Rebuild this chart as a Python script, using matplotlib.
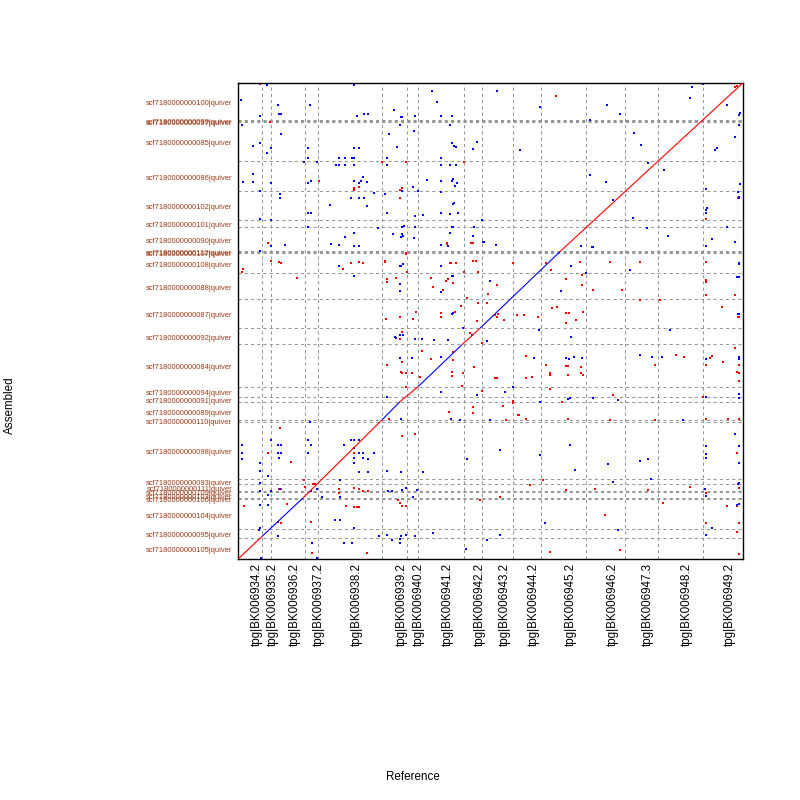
import matplotlib
matplotlib.use("Agg")
import matplotlib.pyplot as plt
import matplotlib.transforms as mtrans
import numpy as np

# reference sequences (x axis), lengths in kb
ref_names = ["tpg|BK006934.2", "tpg|BK006935.2", "tpg|BK006936.2", "tpg|BK006937.2",
             "tpg|BK006938.2", "tpg|BK006939.2", "tpg|BK006940.2", "tpg|BK006941.2",
             "tpg|BK006942.2", "tpg|BK006943.2", "tpg|BK006944.2", "tpg|BK006945.2",
             "tpg|BK006946.2", "tpg|BK006947.3", "tpg|BK006948.2", "tpg|BK006949.2"]
ref_len = [562, 230, 813, 316, 1532, 577, 270, 1091, 440, 746, 667, 1078, 924, 784, 1091, 948]

# assembled scaffolds (y axis), bottom to top, lengths in kb
qry_ids = ["105", "095", "104", "106", "103", "109", "111", "093", "098", "110",
           "089", "091", "094", "084", "092", "087", "088", "108", "107", "112",
           "090", "101", "102", "086", "085", "097", "099", "100"]
qry_len = [525, 228, 768, 25, 147, 25, 190, 112, 1466, 38,
           449, 142, 254, 1075, 406, 735, 659, 507, 25, 25,
           616, 170, 735, 761, 989, 25, 25, 946]

# main diagonal: breakpoints (ref kb, qry kb) and strand of each piece
diag_ref = [0, 566, 1553, 3440, 3872, 4305, 5346, 5783, 7695, 12069]
diag_qry = [0, 565, 1547, 3525, 3989, 4370, 5427, 5850, 7793, 12071]
diag_strand = ["+", "-", "+", "-", "+", "-", "+", "-", "+"]

# short hits, forward strand (ref kb, qry kb)
fwd_hits = [
    (533, 12046), (758, 11090), (1943, 9586), (2780, 9416), (2780, 9358), (2892, 9425),
    (3920, 9416), (3879, 9358), (3872, 9147), (3434, 10076), (4008, 10076), (5394, 10076),
    (5002, 8006), (5569, 8006), (5600, 8006), (724, 8006), (127, 7354), (103, 7286),
    (789, 7557), (987, 7540), (1035, 7507), (2708, 7507), (2892, 7540), (2995, 7507),
    (2517, 7354), (3520, 7557), (4046, 7271), (5067, 7507), (5210, 7507), (5624, 7557),
    (5695, 7557), (1417, 7118), (3568, 7101), (3783, 7126), (4620, 7126), (5026, 7101),
    (5394, 7271), (4022, 7752),
    (1004, 3322), (710, 2681), (1260, 2452), (1577, 2003), (1601, 1834), (1800, 1902),
    (1840, 1902), (987, 1768), (1035, 1768), (2421, 1768), (2780, 1793), (2892, 1768),
    (2995, 1732), (3114, 1732), (10, 1555), (2421, 1666), (136, 1344), (2780, 1326),
    (2837, 1311), (2892, 1311), (2574, 1344), (3817, 1496), (3872, 1413), (3912, 1344),
    (4015, 1344), (3927, 3119), (4230, 3170), (2780, 2681), (2995, 2681), (963, 946),
    (1035, 921), (1745, 946), (1178, 1387), (3090, 145), (1761, 145),
    (5002, 7988), (5609, 8006), (4022, 7735), (3520, 7532), (5083, 7499), (5217, 7499),
    (5729, 7286), (3568, 7025), (4971, 7050), (5146, 6992), (4907, 6822), (4668, 6906),
    (6183, 6949), (6580, 7499), (7354, 7499), (7474, 7329), (7832, 7093), (8174, 7540),
    (8214, 7202), (8229, 6949), (8492, 6822), (5982, 6713), (5466, 6627), (5944, 6485),
    (5743, 6485), (5322, 6424), (4852, 6246), (5186, 6272), (4247, 6272), (4190, 6079),
    (3872, 6130), (3537, 6079), (4852, 6130), (5705, 6043), (6142, 6188), (6183, 6145),
    (6221, 6213), (6357, 6061), (6661, 6188), (6835, 6188), (7177, 6145), (7832, 6231),
    (7911, 6246), (8071, 6061), (7839, 5977), (8253, 6256), (7617, 6398), (7512, 6358),
    (3912, 5749), (3872, 5572), (5545, 5739), (5839, 5470), (4405, 5275), (5146, 5257),
    (5131, 5047), (3927, 5004), (3554, 4920), (4613, 5064), (5633, 4877), (6876, 5156),
    (7354, 4920), (7832, 4894), (7894, 4894), (8198, 4877), (3896, 4750), (3912, 4709),
    (4008, 4709), (4166, 4709), (4350, 4623), (5107, 4750), (5107, 4641), (5385, 4725),
    (6142, 4583), (6183, 4583), (6876, 4598), (7034, 4623), (7457, 4725), (7457, 4666),
    (7894, 4666), (8198, 4709), (8253, 4666), (5361, 4395), (4015, 4370), (7457, 4304),
    (5824, 4260), (6341, 3888), (6580, 3949), (6580, 4007), (7736, 3989), (6685, 3652),
    (6723, 3652), (5624, 3695), (5609, 3847), (5043, 3736), (6876, 3550), (6398, 3525),
    (7894, 3550), (3609, 3550),
    (7600, 11742), (8891, 7532), (9608, 7532), (9178, 6822), (9608, 6568), (10468, 5173),
    (10659, 5123), (9966, 4920), (8963, 4159), (8891, 3525), (9966, 3525), (10086, 6568),
    (5784, 1496), (6262, 1572), (6979, 1877), (7290, 2003), (7839, 1750), (8532, 1775),
    (9799, 1750), (10158, 1420), (10803, 1826), (8771, 1116), (9130, 228), (7457, 178),
    (11886, 11962), (11933, 12003), (11943, 9147), (11192, 8615), (11192, 7540),
    (11192, 7076), (11192, 7032), (11192, 6687), (11886, 6687), (11575, 6398),
    (11943, 6130), (11981, 6130), (11886, 5343), (11336, 5148), (11288, 5090),
    (11192, 4920), (11599, 4988), (11933, 4750), (11981, 4725), (11981, 4920),
    (11981, 4522), (11106, 4116), (11192, 3543), (11718, 3558), (11981, 3558),
    (11933, 2681), (11981, 1793), (11192, 1666), (11192, 1605), (11694, 1344),
    (11933, 1344), (11192, 921), (11981, 921), (11933, 692), (11981, 119),
]

# short hits, reverse strand (ref kb, qry kb)
rev_hits = [
    (700, 12010), (2780, 12010), (72, 11630), (963, 11505), (1728, 11505), (3735, 11390),
    (4630, 11875), (4763, 11580), (987, 11278), (1035, 11278), (533, 11242), (3011, 11278),
    (3114, 11278), (2851, 11227), (3889, 11201), (3927, 11217), (4223, 11227), (4859, 11242),
    (5107, 11242), (103, 10998), (3879, 10998), (5074, 10998), (1035, 10770), (4214, 10846),
    (3616, 10770), (533, 10542), (366, 10466), (789, 10423), (1680, 10423), (2780, 10423),
    (2892, 10423), (3793, 10441), (5115, 10550), (5155, 10466), (5217, 10441), (5624, 10405),
    (5719, 10568), (700, 10296), (1680, 10162), (2421, 10162), (2557, 10162), (2717, 10162),
    (2780, 10162), (3568, 10162), (4859, 10162), (1585, 10076), (1895, 10076), (2349, 9984),
    (2421, 9984), (2557, 9984), (2780, 9984), (3568, 9984), (4859, 9984), (5074, 9984),
    (5217, 9984), (2995, 9695), (366, 9756), (127, 9553), (366, 9553), (789, 9528),
    (1680, 9528), (1752, 9586), (2780, 9578), (2892, 9528), (2940, 9578), (3090, 9553),
    (4524, 9611), (4859, 9578), (5107, 9578), (5146, 9645), (5179, 9452), (5234, 9528),
    (533, 9332), (1004, 9249), (1004, 9163), (2708, 9147), (2899, 9147), (3011, 9147),
    (3258, 9282), (3520, 9249), (3912, 9332), (4175, 9441), (4295, 9332), (4859, 9300),
    (5170, 9036), (5146, 9002), (2206, 8970), (3090, 8944), (1680, 8767), (1752, 8767),
    (3568, 8767), (4237, 8691), (4414, 8724), (4859, 8767), (5074, 8741), (5251, 8767),
    (533, 8615), (789, 8597), (1680, 8427), (3353, 8387), (3912, 8427), (3967, 8453),
    (4237, 8427), (5107, 8427), (5146, 8427), (5633, 8427), (5824, 8597), (3697, 8234),
    (3912, 8234), (3936, 8199), (3889, 8174), (2780, 8275), (2564, 8166), (4214, 8148),
    (5074, 8260), (5624, 8191), (5863, 8047), (789, 7945), (1130, 7971), (2230, 7988),
    (2421, 7971), (2780, 7945), (2892, 7945), (4859, 7971), (5026, 7945), (533, 7803),
    (2421, 7423), (2780, 7169), (3872, 7430), (4859, 7430), (5107, 7169),
    (88, 2883), (103, 2681), (103, 2528), (526, 2442), (789, 3018), (963, 2883),
    (1035, 2883), (963, 2681), (1035, 2681), (987, 2554), (1680, 3018), (1752, 2883),
    (1680, 2681), (1728, 3482), (2526, 2883), (2708, 3018), (2780, 3018), (2892, 3018),
    (2780, 2807), (2892, 2681), (2780, 2554), (2780, 2442), (2995, 2681), (2995, 2554),
    (3114, 2528), (3258, 2681), (2892, 2206), (3114, 2206), (2438, 2003), (3554, 2239),
    (3889, 2206), (4414, 2199), (526, 1920), (526, 1732), (724, 2105), (789, 1732),
    (1004, 1768), (1752, 1732), (1895, 1768), (2438, 1580), (2000, 1580), (710, 1615),
    (3578, 1732), (3688, 1732), (3912, 1750), (4015, 1793), (4175, 1580), (4285, 1750),
    (526, 1369), (710, 1369), (2438, 989), (2780, 779), (502, 735), (526, 779),
    (963, 583), (2533, 413), (2717, 413), (3554, 609), (3377, 583), (3896, 583),
    (4008, 609), (4230, 583), (3673, 482), (3872, 507), (4668, 652), (3872, 398),
    (1761, 398), (550, 18), (1881, 18), (2318, 989), (526, 2239),
    (4852, 7963), (6166, 7963), (5887, 8047), (8198, 7938), (8461, 7905), (8492, 7921),
    (3889, 7430), (3936, 7474), (4852, 7430), (7959, 7430), (5107, 7177), (5131, 7177),
    (3872, 6966), (3872, 6796), (4852, 6779), (6023, 7050), (7720, 6796), (8317, 7261),
    (5107, 6206), (5131, 6231), (5385, 5866), (5585, 5681), (3745, 5638), (3769, 5612),
    (3872, 5681), (3936, 5681), (4230, 5579), (4405, 5579), (4692, 5554), (5026, 5554),
    (5944, 5529), (7194, 5807), (7952, 5622), (3872, 5090), (4151, 5090), (4852, 5130),
    (7082, 5090), (7832, 5105), (7911, 5072), (8038, 5130), (8229, 5105), (6565, 4370),
    (4852, 4243), (6374, 4243), (5705, 4159), (7894, 4058), (7935, 4075), (8492, 4091),
    (3554, 4116), (7218, 3989), (6023, 3525), (5306, 3525), (3889, 3550), (5083, 3550),
    (6190, 11869), (7218, 11463), (8819, 11513), (9130, 11285), (9464, 10803),
    (9632, 10499), (9799, 10043), (10181, 9865), (8413, 9738), (8795, 9561),
    (8963, 9104), (9441, 8648), (9775, 8394), (10277, 8191), (10803, 11691),
    (10851, 11970), (8413, 11133), (6740, 10372),
    (9608, 5173), (9895, 5123), (10134, 5123), (9082, 4032), (10636, 3525),
    (9369, 7329), (10325, 5807),
    (5473, 2536), (6262, 2764), (7218, 2637), (7935, 2891), (8054, 2257), (8843, 2409),
    (8963, 1953), (9608, 2485), (9799, 2536), (9871, 2029), (9082, 735), (7337, 913),
    (6262, 609), (5951, 482), (5449, 254),
    (11106, 12046), (11694, 11506), (11981, 11260), (11998, 11303), (11981, 11006),
    (11886, 10694), (11408, 10365), (11456, 10415), (12005, 9502), (11192, 9376),
    (11943, 9300), (11981, 9188), (11981, 9147), (11216, 8894), (11192, 8858),
    (11192, 8767), (11694, 8420), (11336, 8108), (11886, 8032), (11192, 7945),
    (11981, 7499), (11981, 7474), (11981, 7159), (11933, 7159), (11943, 6206),
    (11981, 6206), (11981, 5115), (11981, 5064), (11192, 5064), (11981, 4184),
    (11192, 4101), (11981, 4075), (11886, 3162), (11192, 2866), (11981, 2866),
    (11192, 2655), (11192, 2554), (11981, 2442), (11943, 1902), (11981, 1920),
    (11153, 1768), (11192, 1598), (11933, 1369), (11981, 1387), (11336, 779),
    (11192, 609),
]

label_col = "#9c3a18"
grid_col = "#969696"

fig = plt.figure(figsize=(8, 8), dpi=100)
ax = fig.add_axes([238 / 800, 1 - 559 / 800, 505 / 800, 476 / 800])

ref_edges = np.concatenate([[0], np.cumsum(ref_len)])
qry_edges = np.concatenate([[0], np.cumsum(qry_len)])

for e in ref_edges[1:-1]:
    ax.axvline(e, color=grid_col, lw=0.75, ls=(0, (3, 3)), zorder=1)
for e in qry_edges[1:-1]:
    ax.axhline(e, color=grid_col, lw=0.75, ls=(0, (3, 3)), zorder=1)

for i, s in enumerate(diag_strand):
    c = "red" if s == "+" else "blue"
    ax.plot(diag_ref[i:i + 2], diag_qry[i:i + 2], color=c, lw=0.8, zorder=3,
            solid_capstyle="butt")

fx, fy = zip(*fwd_hits)
rx, ry = zip(*rev_hits)
ax.scatter(fx, fy, s=1.7, marker="s", color="red", linewidths=0, zorder=2)
ax.scatter(rx, ry, s=1.7, marker="s", color="blue", linewidths=0, zorder=2)

ax.set_xlim(0, ref_edges[-1])
ax.set_ylim(0, qry_edges[-1])

ref_mid = (ref_edges[:-1] + ref_edges[1:]) / 2
qry_mid = (qry_edges[:-1] + qry_edges[1:]) / 2
ax.set_xticks(ref_mid)
ax.set_xticklabels(ref_names, rotation=90, fontsize=8.4, family="Liberation Sans",
                   va="top", ha="center")
ax.set_yticks(qry_mid)
ax.set_yticklabels(["scf7180000000" + q + "|quiver" for q in qry_ids], fontsize=5.4,
                   family="Liberation Sans", color=label_col)
ax.tick_params(axis="both", length=0)
ax.tick_params(axis="x", pad=3)
ax.tick_params(axis="y", pad=4.3)

shift = mtrans.ScaledTranslation(0.068, 0, fig.dpi_scale_trans)
for lab in ax.get_xticklabels():
    lab.set_transform(lab.get_transform() + shift)
shift_y = mtrans.ScaledTranslation(0, -0.01, fig.dpi_scale_trans)
for lab in ax.get_yticklabels():
    lab.set_transform(lab.get_transform() + shift_y)

for sp in ax.spines.values():
    sp.set_linewidth(1.0)
    sp.set_color("black")

fig.text(413 / 800, 1 - 777 / 800, "Reference", ha="center", va="center",
         fontsize=8.4, family="Liberation Sans")
fig.text(10 / 800, 1 - 405 / 800, "Assembled", ha="center", va="center",
         rotation=90, fontsize=8.4, family="Liberation Sans")

fig.savefig("out.png", dpi=100, facecolor="white")
